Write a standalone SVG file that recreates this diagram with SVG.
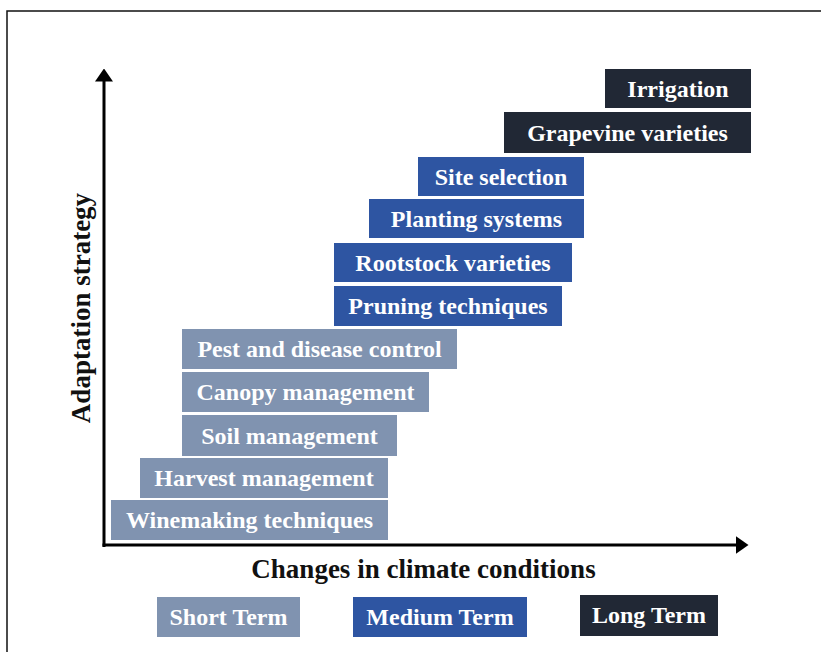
<svg xmlns="http://www.w3.org/2000/svg" width="821" height="652" viewBox="0 0 821 652">
<style>
.s{fill:#8093b0}
.m{fill:#2e55a2}
.l{fill:#212835}
.t{font-family:"Liberation Serif","Times New Roman",serif;font-weight:bold;font-size:24px;fill:#ffffff;text-anchor:middle}
.ax{font-family:"Liberation Serif","Times New Roman",serif;font-weight:bold;font-size:27px;fill:#111111;text-anchor:middle}
</style>
<defs>
<marker id="ah" markerWidth="13" markerHeight="18" refX="0.5" refY="9" orient="auto" markerUnits="userSpaceOnUse" viewBox="0 0 13 18">
<path d="M0,0 L13,9 L0,18 z" fill="#000"/>
</marker>
</defs>
<rect x="0" y="0" width="821" height="652" fill="#ffffff"/>
<path d="M7,652 V11 H821" fill="none" stroke="#111" stroke-width="1.5"/>
<g id="connectors">
<line x1="104" y1="547" x2="104" y2="81" stroke="#000" stroke-width="3" marker-end="url(#ah)" />
<line x1="102.5" y1="545" x2="736" y2="545" stroke="#000" stroke-width="3" marker-end="url(#ah)"/>
</g>
<g id="node-irrigation"><rect class="l" x="605" y="69" width="146" height="39"/><text class="t" x="678" y="97">Irrigation</text></g>
<g id="node-grapevine"><rect class="l" x="504" y="112" width="247" height="41"/><text class="t" x="627.5" y="141">Grapevine varieties</text></g>
<g id="node-site"><rect class="m" x="418" y="157" width="166" height="39"/><text class="t" x="501" y="185">Site selection</text></g>
<g id="node-planting"><rect class="m" x="369" y="199" width="215" height="39"/><text class="t" x="476.5" y="227">Planting systems</text></g>
<g id="node-rootstock"><rect class="m" x="334" y="243" width="238" height="39"/><text class="t" x="453" y="271">Rootstock varieties</text></g>
<g id="node-pruning"><rect class="m" x="334" y="286" width="228" height="40"/><text class="t" x="448" y="314">Pruning techniques</text></g>
<g id="node-pest"><rect class="s" x="182" y="329" width="275" height="40"/><text class="t" x="319.5" y="357">Pest and disease control</text></g>
<g id="node-canopy"><rect class="s" x="182" y="372" width="247" height="40"/><text class="t" x="305.5" y="400">Canopy management</text></g>
<g id="node-soil"><rect class="s" x="182" y="415" width="215" height="41"/><text class="t" x="289.5" y="444">Soil management</text></g>
<g id="node-harvest"><rect class="s" x="140" y="458" width="248" height="40"/><text class="t" x="264" y="486">Harvest management</text></g>
<g id="node-winemaking"><rect class="s" x="111" y="500" width="277" height="40"/><text class="t" x="249.5" y="528">Winemaking techniques</text></g>
<text class="ax" x="423.5" y="578">Changes in climate conditions</text>
<text class="ax" transform="translate(90,308) rotate(-90)" x="0" y="0">Adaptation strategy</text>
<g id="legend-short"><rect class="s" x="157" y="597" width="143" height="40"/><text class="t" x="228.5" y="625">Short Term</text></g>
<g id="legend-medium"><rect class="m" x="353" y="597" width="174" height="40"/><text class="t" x="440" y="625">Medium Term</text></g>
<g id="legend-long"><rect class="l" x="580" y="595" width="138" height="41"/><text class="t" x="649" y="623">Long Term</text></g>
</svg>
